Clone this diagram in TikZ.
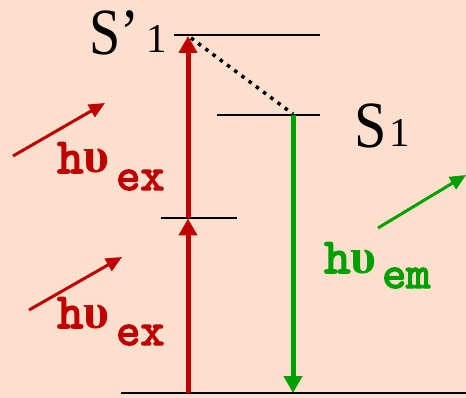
\documentclass[tikz,border=0pt]{standalone}
\usepackage{fontspec}
\setmainfont{Liberation Serif}
\newfontfamily\monob{lmmono10-regular.otf}[FakeBold=3]
\usetikzlibrary{arrows.meta}
\definecolor{bgpeach}{HTML}{FCDFCC}
\definecolor{exred}{HTML}{C00000}
\definecolor{emgreen}{HTML}{00A000}
\newcommand{\upsil}{{\rmfamily\bfseries\fontsize{50}{50}\selectfont υ}}
\tikzset{
  level/.style={line width=2.4pt, black},
  bigarrow/.style={line width=5pt, -{Triangle[width=18pt,length=17pt]}},
  smallarrow/.style={line width=3pt, -{Triangle[width=14pt,length=16pt]}},
  bigS/.style={inner sep=0pt, anchor=base west, font=\fontsize{66}{66}\selectfont},
  subone/.style={inner sep=0pt, anchor=base west, font=\fontsize{41}{41}\selectfont},
  hnu/.style={inner sep=0pt, anchor=base west, font=\monob\fontsize{50}{50}\selectfont},
  sublab/.style={inner sep=0pt, anchor=base west, font=\monob\fontsize{46}{46}\selectfont},
}
\begin{document}
\begin{tikzpicture}[x=1pt,y=-1pt]
\fill[bgpeach] (0,0) rectangle (466,398);
\useasboundingbox (0,0) rectangle (466,398);
% levels
\coordinate (g1) at (121,393); \coordinate (g2) at (466,393);
\coordinate (v1) at (161,218); \coordinate (v2) at (237,218);
\coordinate (s1a) at (217,115); \coordinate (s1b) at (320,115);
\coordinate (sp1a) at (174,35); \coordinate (sp1b) at (320,35);
\draw[level] (g1) -- (g2);
\draw[level] (v1) -- (v2);
\draw[level] (s1a) -- (s1b);
\draw[level] (sp1a) -- (sp1b);
% big arrows
\coordinate (r0) at (188,393);
\coordinate (r1) at (188,218.5);
\coordinate (r1b) at (188,218);
\coordinate (r2) at (188,36);
\draw[bigarrow, exred] (r0) -- (r1);
\draw[bigarrow, exred] (r1b) -- (r2);
\coordinate (gtop) at (293,115);
\coordinate (gbot) at (293,393);
\draw[bigarrow, emgreen] (gtop) -- (gbot);
% dotted relaxation
\coordinate (d0) at (191,38);
\coordinate (d1) at (293,114);
\draw[line width=3.5pt, dash pattern=on 3.5pt off 5.5pt] (d0) -- (d1);
% small photon arrows
\coordinate (p1a) at (13,156); \coordinate (p1b) at (105,103);
\coordinate (p2a) at (29,310); \coordinate (p2b) at (122,257);
\coordinate (p3a) at (378,228); \coordinate (p3b) at (466,175);
\draw[smallarrow, exred] (p1a) -- (p1b);
\draw[smallarrow, exred] (p2a) -- (p2b);
\draw[smallarrow, emgreen] (p3a) -- (p3b);
% labels
\node[bigS] (Sp) at (89,55) {\scalebox{0.85}[1]{S’}};
\node[subone] (Sp1) at (146,53) {1};
\node[bigS] (S) at (354,148) {\scalebox{0.88}[1]{S}};
\node[subone] (S1) at (389,147) {1};
\node[hnu, exred] (hn1) at (57,173) {h\upsil};
\node[sublab, exred] (ex1) at (116,190) {ex};
\node[hnu, exred] (hn2) at (57,328) {h\upsil};
\node[sublab, exred] (ex2) at (116,345) {ex};
\node[hnu, emgreen] (hn3) at (324,273) {h\upsil};
\node[sublab, emgreen] (em3) at (382,288) {em};
\end{tikzpicture}
\end{document}
